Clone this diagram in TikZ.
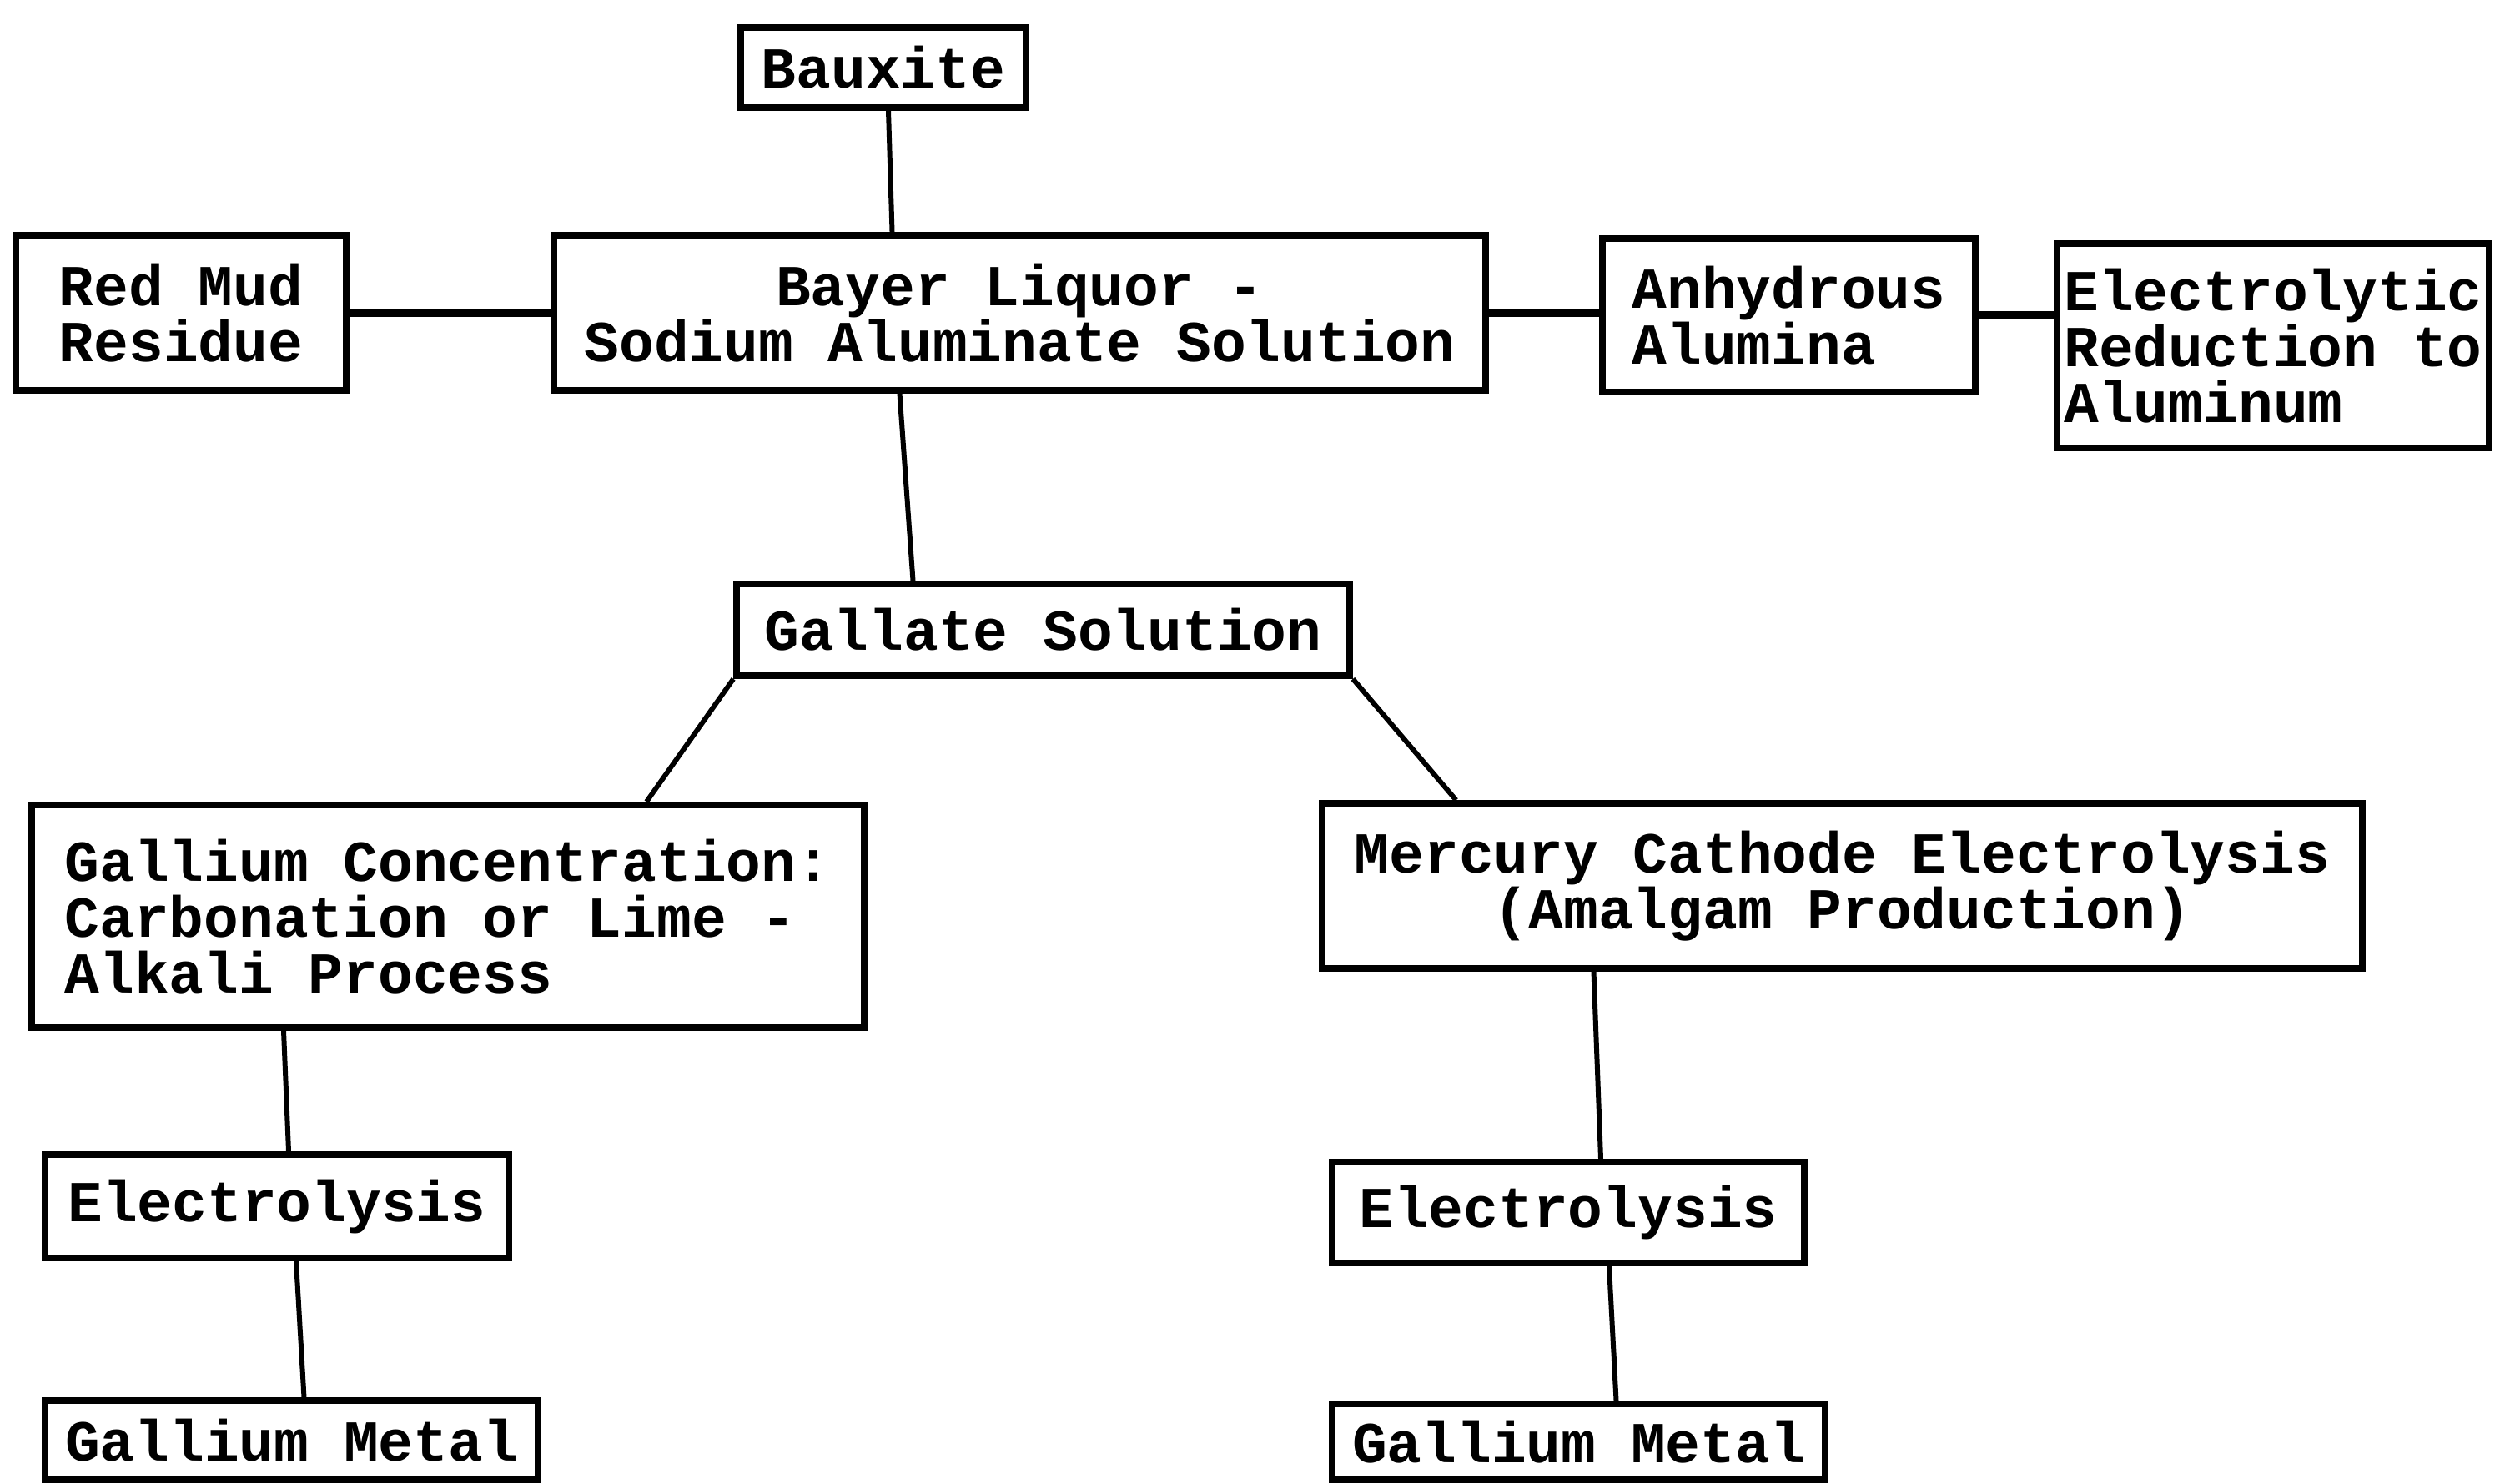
\documentclass[tikz,border=0pt]{standalone}
\usepackage{fontspec}
\setmonofont{Liberation Mono}
\usepackage{tikz}
\usetikzlibrary{calc,positioning}
\tikzset{
  box/.style={draw, line width=2.2pt, fill=white, inner sep=0pt, align=center,
    font=\ttfamily\bfseries\fontsize{19.8}{19}\selectfont},
  lbox/.style={box, align=left},
  link/.style={line width=1.7pt},
  hlink/.style={line width=2.7pt},
}

\begin{document}
\begin{tikzpicture}
\useasboundingbox (0,0) rectangle (30.09,-17.78);

% top row
\node[box, minimum width=3.42cm, minimum height=0.96cm] (bauxite) at (10.59,-0.81) {Bauxite};
\node[box, minimum width=3.96cm, minimum height=1.86cm] (redmud) at (2.17,-3.75) {Red Mud\\Residue};
\node[box, minimum width=11.17cm, minimum height=1.86cm] (bayer) at (12.225,-3.75) {Bayer Liquor -\\Sodium Aluminate Solution};
\node[lbox, minimum width=4.47cm, minimum height=1.84cm] (anhyd) at (21.445,-3.78) {Anhydrous\\Alumina};
\node[lbox, minimum width=5.18cm, minimum height=2.45cm] (redux) at (27.25,-4.145) {Electrolytic\\Reduction to\\Aluminum};

\node[box, minimum width=7.35cm, minimum height=1.10cm] (gallate) at (12.505,-7.55) {Gallate Solution};

% two process branches
\node[lbox, minimum width=9.98cm, minimum height=2.67cm] (conc) at (5.37,-10.985) {Gallium Concentration:\\Carbonation or Lime -\\Alkali Process};
\node[box, minimum width=12.47cm, minimum height=1.98cm] (mercury) at (22.085,-10.62) {Mercury Cathode Electrolysis\\(Amalgam Production)};

\node[box, minimum width=5.56cm, minimum height=1.24cm] (elecL) at (3.32,-14.46) {Electrolysis};
\node[box, minimum width=5.66cm, minimum height=1.21cm] (elecR) at (18.80,-14.535) {Electrolysis};

\node[box, minimum width=5.91cm, minimum height=0.95cm] (metalL) at (3.495,-17.265) {Gallium Metal};
\node[box, minimum width=5.91cm, minimum height=0.91cm] (metalR) at (18.925,-17.285) {Gallium Metal};

% connectors
\draw[link] ($(bauxite.south)+(0.06,0)$) -- ($(bayer.north)+(-1.53,0)$);
\draw[hlink] (redmud.east) -- (bayer.west);
\draw[hlink] (bayer.east) -- (bayer.east -| anhyd.west);
\draw[hlink] (anhyd.east) -- (anhyd.east -| redux.west);
\draw[link] ($(bayer.south)+(-1.44,0)$) -- ($(gallate.north)+(-1.56,0)$);
\draw[link] (gallate.south west) -- ($(conc.north)+(2.38,0)$);
\draw[link] (gallate.south east) -- ($(mercury.north)+(-4.63,0)$);
\draw[link] ($(conc.south)+(-1.97,0)$) -- ($(elecL.north)+(0.14,0)$);
\draw[link] ($(elecL.south)+(0.23,0)$) -- ($(metalL.north)+(0.15,0)$);
\draw[link] ($(mercury.south)+(-2.98,0)$) -- ($(elecR.north)+(0.39,0)$);
\draw[link] ($(elecR.south)+(0.49,0)$) -- ($(metalR.north)+(0.45,0)$);
\end{tikzpicture}
\end{document}
